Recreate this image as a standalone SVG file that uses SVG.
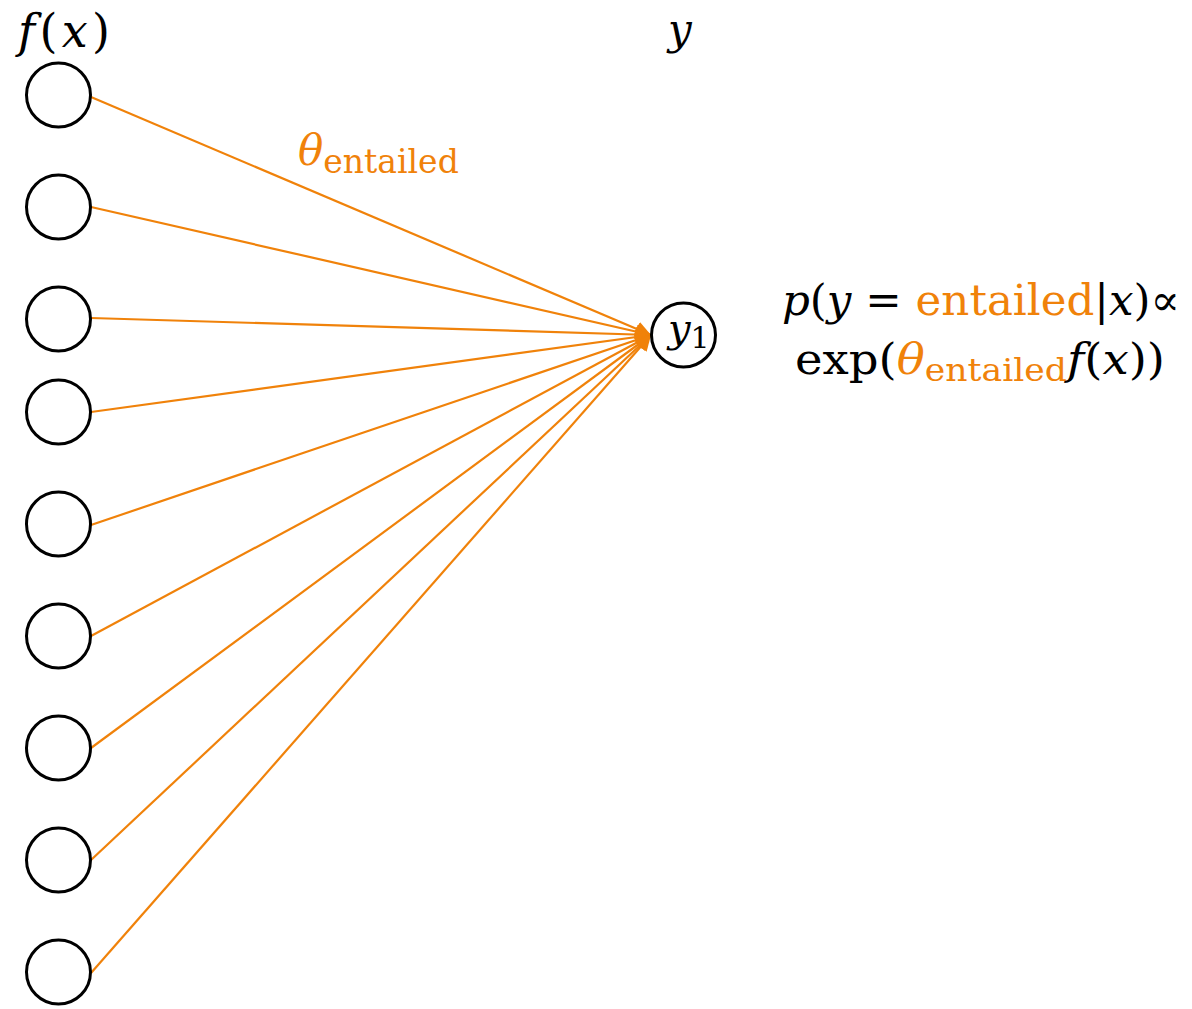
<svg xmlns="http://www.w3.org/2000/svg" width="1192" height="1009" viewBox="0 0 1192 1009">
<style>
.n{fill:#fff;stroke:#000;stroke-width:3}
.e{stroke:#F0820A;stroke-width:2.2;fill:none;marker-end:url(#ah)}
.t{font-family:"DejaVu Serif","Liberation Serif",serif;fill:#000}
.i{font-style:italic}
.o{fill:#F0820A}
</style>
<defs>
<marker id="ah" viewBox="0 0 10 10" refX="10" refY="5" markerWidth="7" markerHeight="7" orient="auto" markerUnits="strokeWidth">
<path d="M0,0 L10,5 L0,10 z" fill="#F0820A"/>
</marker>
</defs>
<rect width="1192" height="1009" fill="#fff"/>
<g id="connectors">
<line class="e" x1="91" y1="97" x2="651" y2="335"/>
<line class="e" x1="91" y1="207" x2="651" y2="335"/>
<line class="e" x1="91" y1="318" x2="651" y2="335"/>
<line class="e" x1="91" y1="412" x2="651" y2="335"/>
<line class="e" x1="91" y1="525" x2="651" y2="335"/>
<line class="e" x1="91" y1="636" x2="651" y2="335"/>
<line class="e" x1="91" y1="748" x2="651" y2="335"/>
<line class="e" x1="91" y1="860" x2="651" y2="335"/>
<line class="e" x1="91" y1="973" x2="651" y2="335"/>
</g>
<g id="f1"><circle class="n" cx="58.5" cy="95" r="32"/></g>
<g id="f2"><circle class="n" cx="58.5" cy="207" r="32"/></g>
<g id="f3"><circle class="n" cx="58.5" cy="319" r="32"/></g>
<g id="f4"><circle class="n" cx="58.5" cy="412" r="32"/></g>
<g id="f5"><circle class="n" cx="58.5" cy="524" r="32"/></g>
<g id="f6"><circle class="n" cx="58.5" cy="636" r="32"/></g>
<g id="f7"><circle class="n" cx="58.5" cy="748" r="32"/></g>
<g id="f8"><circle class="n" cx="58.5" cy="860" r="32"/></g>
<g id="f9"><circle class="n" cx="58.5" cy="972" r="32"/></g>
<g id="y1">
<circle class="n" cx="683.5" cy="335" r="32"/>
<text class="t" x="668" y="342" font-size="40"><tspan class="i">y</tspan><tspan font-size="30" dy="6">1</tspan></text>
</g>
<text class="t i" x="18" y="47" font-size="46" textLength="92" lengthAdjust="spacing">f<tspan font-style="normal">(</tspan>x<tspan font-style="normal">)</tspan></text>
<text class="t i" x="668" y="44" font-size="42">y</text>
<text class="t" x="298" y="165" font-size="42"><tspan class="i o">θ</tspan><tspan class="o" font-size="33" dy="8">entailed</tspan></text>
<text class="t" x="782" y="315" font-size="43" textLength="398" lengthAdjust="spacingAndGlyphs"><tspan class="i">p</tspan>(<tspan class="i">y</tspan> = <tspan class="o">entailed</tspan>|<tspan class="i">x</tspan>)∝</text>
<text class="t" x="795" y="374" font-size="43" textLength="370" lengthAdjust="spacingAndGlyphs"><tspan>exp(</tspan><tspan class="i o">θ</tspan><tspan class="o" font-size="32" dy="7">entailed</tspan><tspan class="i" dy="-7">f</tspan>(<tspan class="i">x</tspan>))</text>
</svg>
